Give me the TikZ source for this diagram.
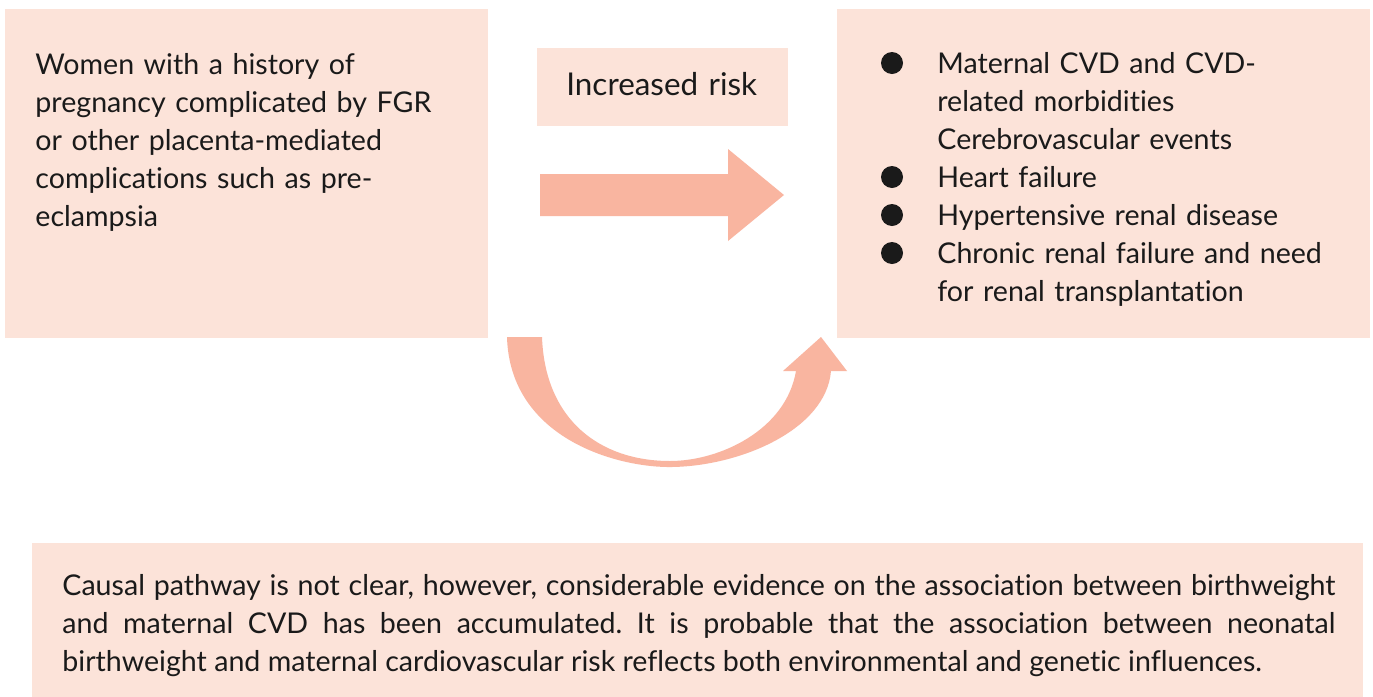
\documentclass[tikz,border=0pt]{standalone}
\usepackage{fontspec}
\setmainfont{Lato}[Ligatures=NoCommon]
\definecolor{boxfill}{HTML}{FCE3D9}
\definecolor{arrowfill}{HTML}{F9B5A0}
\definecolor{ink}{HTML}{1A1A1A}
\frenchspacing
\begin{document}
\begin{tikzpicture}[x=0.5pt,y=-0.5pt,
  panel/.style={fill=boxfill,draw=none},
  txt/.style={font=\fontsize{14.3}{19}\selectfont,text=ink,inner sep=0pt,align=left,anchor=base west,text width=#1},
  txt/.default=230pt,
  bullet/.style={circle,fill=ink,minimum size=11pt,inner sep=0pt}]
\useasboundingbox (0,0) rectangle (1373,697);
\fill[white] (0,0) rectangle (1373,697);
% boxes
\fill[panel] (5,9) rectangle (488,338);
\fill[panel] (537,48) rectangle (788,126);
\fill[panel] (837,9) rectangle (1370,338);
\fill[panel] (32,543) rectangle (1363,697);
% texts
\node[txt] (left) at (35,74) {Women with a history of\\pregnancy complicated by FGR\\or other placenta-mediated\\complications such as pre-\\eclampsia};
\node[txt=120pt,font=\fontsize{15.7}{19}\selectfont] (risk) at (566,95) {Increased risk};
\node[txt] (right) at (937,73) {Maternal CVD and CVD-\\related morbidities\\Cerebrovascular events\\Heart failure\\Hypertensive renal disease\\Chronic renal failure and need\\for renal transplantation};
\node[bullet] (b1) at (892,63) {};
\node[bullet] (b2) at (892,177) {};
\node[bullet] (b3) at (892,215) {};
\node[bullet] (b4) at (892,253) {};
\node[txt=636.5pt,align=justify] (bottom) at (62,595) {Causal pathway is not clear, however, considerable evidence on the association between birthweight\linebreak and maternal CVD has been accumulated. It is probable that the association between neonatal\linebreak birthweight and maternal cardiovascular risk reflects both environmental and genetic influences.};
% straight arrow
\fill[arrowfill] (540,174) -- (728,174) -- (728,149) -- (784,195) -- (728,241) -- (728,216) -- (540,216) -- cycle;
% curved arrow
\fill[arrowfill] (507,337) .. controls (510,440) and (620,468) .. (672,467)
  .. controls (740,466) and (826,430) .. (831,371)
  -- (847,371) -- (821,337) -- (783,371) -- (796,371)
  .. controls (786,430) and (720,461) .. (670,461)
  .. controls (600,461) and (545,420) .. (542,337) -- cycle;
\end{tikzpicture}
\end{document}
